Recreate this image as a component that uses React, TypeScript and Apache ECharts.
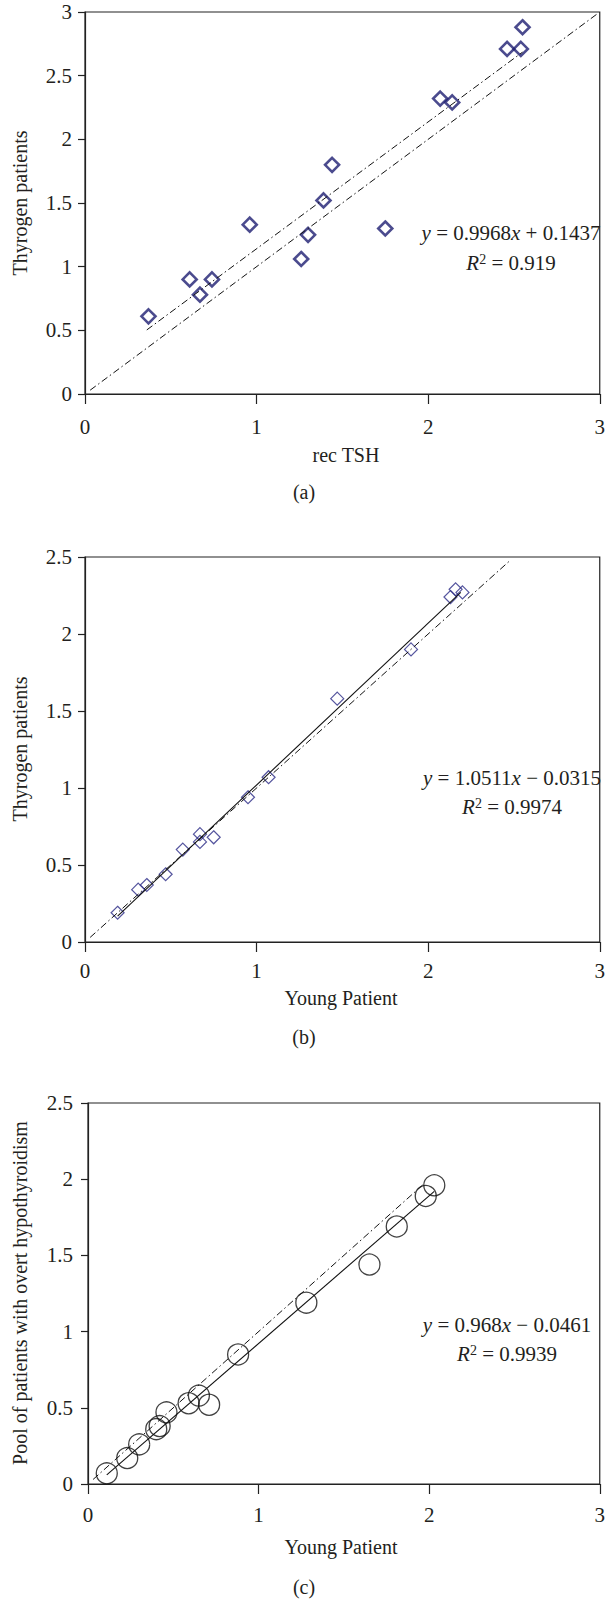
import React, { useEffect, useRef } from "react";
import * as echarts from "echarts";

// Panel (a): rec TSH vs Thyrogen patients
const aX = [0.37, 0.61, 0.67, 0.74, 0.96, 1.26, 1.30, 1.39, 1.44, 1.75, 2.07, 2.14, 2.46, 2.54, 2.55];
const aY = [0.61, 0.90, 0.78, 0.90, 1.33, 1.06, 1.25, 1.52, 1.80, 1.30, 2.32, 2.29, 2.71, 2.71, 2.88];
const aTrend = [[0.36, 0.503], [2.55, 2.685]];
const aDiag = [[0.03, 0.03], [2.99, 2.99]];

// Panel (b): Young Patient vs Thyrogen patients
const bX = [0.19, 0.31, 0.36, 0.47, 0.57, 0.67, 0.67, 0.75, 0.95, 1.07, 1.47, 1.90, 2.13, 2.16, 2.20];
const bY = [0.19, 0.34, 0.37, 0.44, 0.60, 0.70, 0.65, 0.68, 0.94, 1.07, 1.58, 1.90, 2.24, 2.29, 2.27];
const bTrend = [[0.19, 0.168], [2.19, 2.27]];
const bDiag = [[0.03, 0.03], [2.48, 2.48]];

// Panel (c): Young Patient vs Pool of patients with overt hypothyroidism
const cX = [0.11, 0.23, 0.30, 0.40, 0.42, 0.46, 0.59, 0.65, 0.71, 0.88, 1.28, 1.65, 1.81, 1.98, 2.03];
const cY = [0.07, 0.17, 0.26, 0.36, 0.38, 0.47, 0.53, 0.58, 0.52, 0.85, 1.19, 1.44, 1.69, 1.89, 1.96];
const cTrend = [[0.11, 0.06], [2.03, 1.92]];
const cDiag = [[0.03, 0.03], [1.97, 1.97]];

const xTicks = { min: 0, max: 3, interval: 1 };
const yMaxes = [3, 2.5, 2.5];

const xNames = ["rec TSH", "Young Patient", "Young Patient"];
const yNames = ["Thyrogen patients", "Thyrogen patients", "Pool of patients with overt hypothyroidism"];
const captions = ["(a)", "(b)", "(c)"];
const equations = [
  ["{i|y} = 0.9968{i|x} + 0.1437", "{i|R}{s|2} = 0.919"],
  ["{i|y} = 1.0511{i|x} \u2212 0.0315", "{i|R}{s|2} = 0.9974"],
  ["{i|y} = 0.968{i|x} \u2212 0.0461", "{i|R}{s|2} = 0.9939"],
];

const FONT = "Liberation Serif";
const TXT = "#231f20";

export default function App() {
  const ref = useRef<HTMLDivElement>(null);
  useEffect(() => {
    if (!ref.current) return;
    const chart = echarts.init(ref.current, undefined, { renderer: "svg" });

    const grids = [
      { left: 85, top: 12, width: 520, height: 382 },
      { left: 85, top: 557, width: 520, height: 385 },
      { left: 88, top: 1103, width: 517, height: 381 },
    ];
    const xMargins = [22.5, 18, 20];
    const yMargins = [13, 13, 15];

    const pts = (xs: number[], ys: number[]) => xs.map((x, i) => [x, ys[i]]);
    const dashDot = [7, 3, 1.5, 3];

    const rich = {
      i: { fontStyle: "italic", fontSize: 21, fontFamily: FONT, fill: TXT },
      s: { fontSize: 14, fontFamily: FONT, fill: TXT, verticalAlign: "top", lineHeight: 21 },
    };

    const eqPos = [
      [511, 233, 263],
      [512, 778, 807],
      [507, 1325, 1354],
    ];
    const yNamePos = [203, 749, 1293];
    const xNamePos = [[346, 455], [341, 998], [341, 1547]];
    const capY = [492, 1037, 1587];

    const graphic: any[] = [];
    for (let k = 0; k < 3; k++) {
      graphic.push({
        type: "text",
        x: 20,
        y: yNamePos[k],
        rotation: Math.PI / 2,
        style: { text: yNames[k], fontSize: 20, fontFamily: FONT, fill: TXT, align: "center", verticalAlign: "middle" },
      });
      graphic.push({
        type: "text",
        x: xNamePos[k][0],
        y: xNamePos[k][1],
        style: { text: xNames[k], fontSize: 20, fontFamily: FONT, fill: TXT, align: "center", verticalAlign: "middle" },
      });
      graphic.push({
        type: "text",
        x: 304,
        y: capY[k],
        style: { text: captions[k], fontSize: 20, fontFamily: FONT, fill: TXT, align: "center", verticalAlign: "middle" },
      });
      graphic.push({
        type: "text",
        x: eqPos[k][0],
        y: eqPos[k][1],
        style: { text: equations[k][0], fontSize: 21, fontFamily: FONT, fill: TXT, align: "center", verticalAlign: "middle", rich },
      });
      graphic.push({
        type: "text",
        x: eqPos[k][0],
        y: eqPos[k][2],
        style: { text: equations[k][1], fontSize: 21, fontFamily: FONT, fill: TXT, align: "center", verticalAlign: "middle", rich },
      });
    }

    const axisLine = { show: true, lineStyle: { color: "#222", width: 1.2 } };

    const option: any = {
      animation: false,
      backgroundColor: "#fff",
      grid: grids.map((g) => ({ ...g, show: true, borderColor: "#222", borderWidth: 1.2, backgroundColor: "transparent" })),
      xAxis: [0, 1, 2].map((k) => ({
        type: "value",
        gridIndex: k,
        ...xTicks,
        axisLine: { ...axisLine, onZero: false },
        axisTick: { show: true, inside: false, length: 10, lineStyle: { color: "#222", width: 1.2 } },
        splitLine: { show: false },
        axisLabel: { fontSize: 21, fontFamily: FONT, color: TXT, margin: xMargins[k] },
      })),
      yAxis: [0, 1, 2].map((k) => ({
        type: "value",
        gridIndex: k,
        min: 0,
        max: yMaxes[k],
        interval: 0.5,
        axisLine: { ...axisLine, onZero: false },
        axisTick: { show: true, inside: false, length: 7, lineStyle: { color: "#222", width: 1.2 } },
        splitLine: { show: false },
        axisLabel: { fontSize: 21, fontFamily: FONT, color: TXT, margin: yMargins[k] },
      })),
      series: [
        // (a)
        {
          type: "line", xAxisIndex: 0, yAxisIndex: 0, data: aDiag, symbol: "none", silent: true,
          lineStyle: { color: "#111", width: 1, type: dashDot },
        },
        {
          type: "line", xAxisIndex: 0, yAxisIndex: 0, data: aTrend, symbol: "none", silent: true,
          lineStyle: { color: "#111", width: 1, type: dashDot },
        },
        {
          type: "scatter", xAxisIndex: 0, yAxisIndex: 0, data: pts(aX, aY), symbol: "diamond", symbolSize: 14, silent: true,
          itemStyle: { color: "rgba(0,0,0,0)", borderColor: "#1e1e72", borderWidth: 2.6 },
        },
        // (b)
        {
          type: "line", xAxisIndex: 1, yAxisIndex: 1, data: bDiag, symbol: "none", silent: true,
          lineStyle: { color: "#111", width: 1, type: dashDot },
        },
        {
          type: "line", xAxisIndex: 1, yAxisIndex: 1, data: bTrend, symbol: "none", silent: true,
          lineStyle: { color: "#111", width: 1.1, type: "solid" },
        },
        {
          type: "scatter", xAxisIndex: 1, yAxisIndex: 1, data: pts(bX, bY), symbol: "diamond", symbolSize: 13, silent: true,
          itemStyle: { color: "rgba(0,0,0,0)", borderColor: "#2a2a86", borderWidth: 1.2 },
        },
        // (c)
        {
          type: "line", xAxisIndex: 2, yAxisIndex: 2, data: cDiag, symbol: "none", silent: true,
          lineStyle: { color: "#111", width: 1, type: dashDot },
        },
        {
          type: "line", xAxisIndex: 2, yAxisIndex: 2, data: cTrend, symbol: "none", silent: true,
          lineStyle: { color: "#111", width: 1.1, type: "solid" },
        },
        {
          type: "scatter", xAxisIndex: 2, yAxisIndex: 2, data: pts(cX, cY), symbol: "circle", symbolSize: 21, silent: true,
          itemStyle: { color: "rgba(0,0,0,0)", borderColor: "#111", borderWidth: 1.3 },
        },
      ],
      graphic,
    };
    chart.setOption(option);
    return () => chart.dispose();
  }, []);
  return (
    <div
      ref={ref}
      style={{ position: "absolute", left: 0, top: 0, width: 608, height: 1599, background: "#fff" }}
    />
  );
}
